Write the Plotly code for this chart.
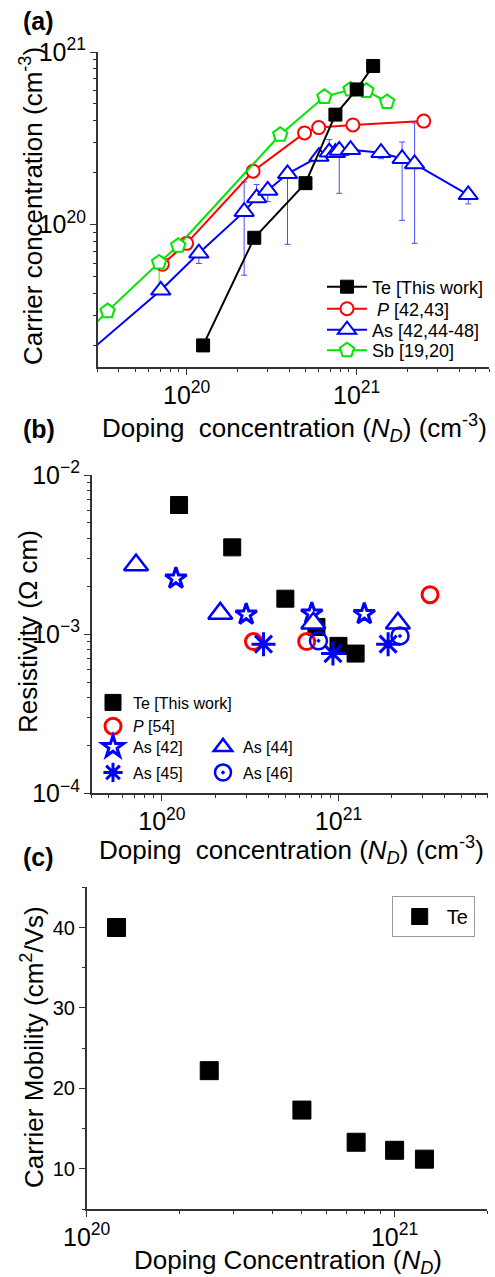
import math
import plotly.graph_objects as go

# ---------------- Panel (a): carrier concentration vs doping ----------------
te_nd = [1.25e20, 2.5e20, 5.0e20, 7.5e20, 1.0e21, 1.25e21]
te_carrier = [2.0e19, 8.4e19, 1.74e20, 4.34e20, 6.07e20, 8.3e20]

p_nd = [7.2e19, 1.0e20, 2.46e20, 4.94e20, 5.98e20, 9.5e20, 2.48e21]
p_carrier = [5.9e19, 7.8e19, 2.04e20, 3.4e20, 3.65e20, 3.78e20, 3.98e20]

as_nd = [2.0e19, 7.05e19, 1.18e20, 2.18e20, 2.58e20, 3.0e20, 3.92e20, 6.0e20, 6.9e20,
         7.5e20, 7.9e20, 9.2e20, 1.39e21, 1.85e21, 2.19e21, 4.53e21]
as_carrier = [1.44e19, 4.17e19, 6.84e19, 1.19e20, 1.43e20, 1.58e20, 1.97e20, 2.48e20, 2.63e20,
              2.61e20, 2.69e20, 2.72e20, 2.61e20, 2.41e20, 2.25e20, 1.49e20]

# error bars on selected As points
as_err_nd = [1.18e20, 2.18e20, 2.58e20, 3.0e20, 3.92e20, 6.9e20, 7.9e20, 1.39e21, 1.85e21, 2.19e21, 4.53e21]
as_err_val = [6.84e19, 1.19e20, 1.43e20, 1.58e20, 1.97e20, 2.63e20, 2.69e20, 2.61e20, 2.41e20, 2.25e20, 1.49e20]
as_err_plus = [0.3e19, 5.8e19, 2.8e19, 0.3e19, 0.0, 4.8e19, 0.3e19, 0.0, 6.0e19, 1.63e20, 0.0]
as_err_minus = [0.88e19, 6.8e19, 0.3e19, 2.2e19, 1.2e20, 0.0, 1.17e20, 2.0e19, 1.35e20, 1.47e20, 1.7e19]

sb_nd = [2.0e19, 3.43e19, 6.89e19, 8.93e19, 3.55e20, 6.46e20, 9.2e20, 1.14e21, 1.51e21]
sb_carrier = [1.84e19, 3.16e19, 6.04e19, 7.55e19, 3.32e20, 5.5e20, 6.07e20, 5.96e20, 5.14e20]

sb_err_nd = [6.89e19, 8.93e19, 3.55e20]
sb_err_val = [6.04e19, 7.55e19, 3.32e20]
sb_err_plus = [0.0, 0.3e19, 0.2e20]
sb_err_minus = [2.0e19, 0.5e19, 0.2e20]

# ---------------- Panel (b): resistivity vs doping ----------------
te_rho = [6.48e-3, 3.51e-3, 1.67e-3, 1.11e-3, 8.44e-4, 7.55e-4]
p54_nd = [3.3e20, 6.6e20, 3.3e21]
p54_rho = [8.98e-4, 8.98e-4, 1.77e-3]
as42_nd = [1.2e20, 3.0e20, 7.06e20, 1.4e21]
as42_rho = [2.24e-3, 1.33e-3, 1.35e-3, 1.34e-3]
as44_nd = [7.13e19, 2.14e20, 7.2e20, 2.17e21]
as44_rho = [2.72e-3, 1.35e-3, 1.17e-3, 1.17e-3]
as45_nd = [3.76e20, 9.3e20, 1.91e21]
as45_rho = [8.65e-4, 7.55e-4, 8.65e-4]
as46_nd = [7.7e20, 2.23e21]
as46_rho = [9.08e-4, 9.75e-4]

# ---------------- Panel (c): mobility vs doping ----------------
te_mobility = [40.0, 22.2, 17.3, 13.3, 12.3, 11.2]

FONT = "Liberation Sans, Arial, sans-serif"
BLACK = "#000000"
RED = "#ff0000"
BLUE = "#0000ff"
GREEN = "#00e600"
AXC = "#333333"

W, H = 495, 1277


def px_x(p):
    return p / W


def px_y(p):
    return 1 - p / H


fig = go.Figure()

# ---- panel a traces (As, P, Sb, Te drawn in this order) ----
fig.add_trace(go.Scatter(
    x=as_err_nd, y=as_err_val, mode="markers", marker=dict(size=1, opacity=0),
    error_y=dict(type="data", symmetric=False, array=as_err_plus, arrayminus=as_err_minus,
                 color="#4d4dff", thickness=1, width=3),
    showlegend=False, hoverinfo="skip", xaxis="x", yaxis="y"))
fig.add_trace(go.Scatter(
    x=sb_err_nd, y=sb_err_val, mode="markers", marker=dict(size=1, opacity=0),
    error_y=dict(type="data", symmetric=False, array=sb_err_plus, arrayminus=sb_err_minus,
                 color="#33dd33", thickness=1, width=3),
    showlegend=False, hoverinfo="skip", xaxis="x", yaxis="y"))
fig.add_trace(go.Scatter(
    x=as_nd, y=as_carrier, mode="lines+markers", name="As [42,44-48]",
    line=dict(color=BLUE, width=2),
    marker=dict(symbol="triangle-up", size=17, color="white", line=dict(color=BLUE, width=2)),
    legend="legend7", xaxis="x", yaxis="y"))
fig.add_trace(go.Scatter(
    x=p_nd, y=p_carrier, mode="lines+markers", name=" <i>P</i> [42,43]",
    line=dict(color=RED, width=2),
    marker=dict(symbol="circle", size=13, color="white", line=dict(color=RED, width=2)),
    legend="legend6", xaxis="x", yaxis="y"))
fig.add_trace(go.Scatter(
    x=sb_nd, y=sb_carrier, mode="lines+markers", name="Sb [19,20]",
    line=dict(color=GREEN, width=2),
    marker=dict(symbol="pentagon", size=15, color="white", line=dict(color=GREEN, width=2)),
    legend="legend8", xaxis="x", yaxis="y"))
fig.add_trace(go.Scatter(
    x=te_nd, y=te_carrier, mode="lines+markers", name="Te [This work]",
    line=dict(color=BLACK, width=2),
    marker=dict(symbol="square", size=13, color=BLACK, line=dict(color=BLACK, width=1)),
    legend="legend", xaxis="x", yaxis="y"))

# ---- panel b traces ----
fig.add_trace(go.Scatter(
    x=te_nd, y=te_rho, mode="markers", name="Te [This work]",
    marker=dict(symbol="square", size=17, color=BLACK, line=dict(color=BLACK, width=1)),
    legend="legend2", xaxis="x2", yaxis="y2"))
fig.add_trace(go.Scatter(
    x=p54_nd, y=p54_rho, mode="markers", name="<i>P</i> [54]",
    marker=dict(symbol="circle-open", size=16, color=RED, line=dict(color=RED, width=3)),
    legend="legend2", xaxis="x2", yaxis="y2"))
fig.add_trace(go.Scatter(
    x=as42_nd, y=as42_rho, mode="markers", name="As [42]",
    marker=dict(symbol="star-open", size=16, color=BLUE, line=dict(color=BLUE, width=3)),
    legend="legend3", xaxis="x2", yaxis="y2"))
fig.add_trace(go.Scatter(
    x=as44_nd, y=as44_rho, mode="markers", name="As [44]",
    marker=dict(symbol="triangle-up", size=21, color="white", line=dict(color=BLUE, width=2.5)),
    legend="legend3", xaxis="x2", yaxis="y2"))
fig.add_trace(go.Scatter(
    x=as46_nd, y=as46_rho, mode="markers", name="As [46]",
    marker=dict(symbol="circle-open-dot", size=17, color=BLUE, line=dict(color=BLUE, width=2.5)),
    legend="legend4", legendrank=2, xaxis="x2", yaxis="y2"))
fig.add_trace(go.Scatter(
    x=as45_nd, y=as45_rho, mode="markers", name="As [45]",
    marker=dict(symbol="asterisk-open", size=20, color=BLUE, line=dict(color=BLUE, width=3)),
    legend="legend4", legendrank=1, xaxis="x2", yaxis="y2"))

# ---- panel c trace ----
fig.add_trace(go.Scatter(
    x=te_nd, y=te_mobility, mode="markers", name="Te",
    marker=dict(symbol="square", size=18, color=BLACK, line=dict(color=BLACK, width=1)),
    legend="legend5", xaxis="x3", yaxis="y3"))

# ---------------- axes ----------------
common = dict(showline=True, linecolor=AXC, linewidth=1.5, showgrid=False, zeroline=False,
              automargin=False, ticklen=6, tickwidth=1.2, tickcolor=AXC,
              tickfont=dict(size=20, color=BLACK, family=FONT))


def log_axis(rng, dom, anchor, side=None, overlay=None, inside=False):
    d = dict(common)
    d.update(type="log", range=rng, autorange=False, tickmode="linear", tick0=0, dtick=1,
             exponentformat="power",
             ticks="inside" if inside else "outside",
             minor=dict(dtick="D1", ticks="inside" if inside else "outside", ticklen=3,
                        tickwidth=1, tickcolor=AXC, showgrid=False),
             anchor=anchor)
    if overlay:
        d.update(overlaying=overlay, side=side, showticklabels=False)
    else:
        d.update(domain=dom)
    return d


def lin_axis(rng, dom, anchor, side=None, overlay=None, inside=False):
    d = dict(common)
    d.update(type="linear", range=rng, autorange=False, tickmode="linear", tick0=0, dtick=10,
             ticks="inside" if inside else "outside",
             minor=dict(tick0=0, dtick=5, ticks="inside" if inside else "outside", ticklen=3,
                        tickwidth=1, tickcolor=AXC, showgrid=False),
             anchor=anchor)
    if overlay:
        d.update(overlaying=overlay, side=side, showticklabels=False)
    else:
        d.update(domain=dom)
    return d


xa_rng = [math.log10(3e19), math.log10(6e21)]
ya_rng = [math.log10(1.5e19), 21]
xb_rng = [math.log10(4e19), math.log10(7e21)]
yb_rng = [-4, -2]
xc_rng = [20, math.log10(2e21)]
yc_rng = [5, 45]

dom_xa = [px_x(97.7), px_x(489)]
dom_ya = [px_y(367), px_y(52)]
dom_xb = [px_x(91.7), px_x(487.7)]
dom_yb = [px_y(793.3), px_y(475)]
dom_xc = [px_x(86.7), px_x(487.3)]
dom_yc = [px_y(1209), px_y(887.3)]

layout_axes = dict(
    xaxis=log_axis(xa_rng, dom_xa, "y"),
    yaxis=log_axis(ya_rng, dom_ya, "x"),
    xaxis4=log_axis(xa_rng, None, "y", side="top", overlay="x", inside=True),
    yaxis4=log_axis(ya_rng, None, "x", side="right", overlay="y", inside=True),
    xaxis2=log_axis(xb_rng, dom_xb, "y2"),
    yaxis2=log_axis(yb_rng, dom_yb, "x2"),
    xaxis5=log_axis(xb_rng, None, "y2", side="top", overlay="x2", inside=True),
    yaxis5=log_axis(yb_rng, None, "x2", side="right", overlay="y2", inside=True),
    xaxis3=log_axis(xc_rng, dom_xc, "y3"),
    yaxis3=lin_axis(yc_rng, dom_yc, "x3"),
    xaxis6=log_axis(xc_rng, None, "y3", side="top", overlay="x3", inside=True),
    yaxis6=lin_axis(yc_rng, None, "x3", side="right", overlay="y3", inside=True),
)

TITLE = 26
ann = []


def add_text(text, x, y, size=TITLE, angle=0, bold=False):
    ann.append(dict(text=("<b>%s</b>" % text) if bold else text, x=px_x(x), y=px_y(y),
                    xref="paper", yref="paper", showarrow=False, textangle=angle,
                    xanchor="center", yanchor="middle",
                    font=dict(size=size, family=FONT, color=BLACK)))


xtitle = "Doping\u00a0 concentration (<i>N</i><sub><i>D</i></sub>) (cm<sup>-3</sup>)"
add_text("(a)", 38, 21, size=25, bold=True)
add_text("(b)", 39, 429, size=25, bold=True)
add_text("(c)", 38, 857, size=25, bold=True)
add_text(xtitle, 294.5, 428)
add_text("Carrier concentration (cm<sup>-3</sup>)", 32, 206, angle=-90)
add_text(xtitle, 291.7, 850)
add_text("Resistivity (\u03a9 cm)", 28, 632, angle=-90)
add_text("Doping Concentration (<i>N</i><sub><i>D</i></sub>)", 288, 1261.5)
add_text("Carrier Mobility (cm<sup>2</sup>/Vs)", 32, 1047, angle=-90)


def row_legend(center_y, size=18, width=40):
    return dict(x=px_x(322), y=px_y(center_y), xanchor="left", yanchor="middle",
                font=dict(size=size, family=FONT), bgcolor="rgba(0,0,0,0)", itemwidth=width)


fig.update_layout(
    width=W, height=H, margin=dict(l=0, r=0, t=0, b=0, autoexpand=False),
    paper_bgcolor="white", plot_bgcolor="white",
    font=dict(family=FONT, color=BLACK),
    annotations=ann,
    legend=row_legend(287),
    legend6=row_legend(309),
    legend7=row_legend(330),
    legend8=row_legend(350.5),
    legend2=dict(x=px_x(93), y=px_y(685.5), xanchor="left", yanchor="top",
                 font=dict(size=16, family=FONT), bgcolor="rgba(0,0,0,0)", itemwidth=30),
    legend3=dict(x=px_x(93), y=px_y(730), xanchor="left", yanchor="top", orientation="h",
                 entrywidth=65, entrywidthmode="pixels",
                 font=dict(size=16, family=FONT), bgcolor="rgba(0,0,0,0)", itemwidth=30),
    legend4=dict(x=px_x(93), y=px_y(755.5), xanchor="left", yanchor="top", orientation="h",
                 entrywidth=65, entrywidthmode="pixels",
                 font=dict(size=16, family=FONT), bgcolor="rgba(0,0,0,0)", itemwidth=30),
    legend5=dict(x=px_x(391.7), y=px_y(896), xanchor="left", yanchor="top",
                 font=dict(size=20, family=FONT), bgcolor="white", bordercolor="#999999",
                 borderwidth=1, itemwidth=44),
    **layout_axes,
)

fig.write_html("out.html")
